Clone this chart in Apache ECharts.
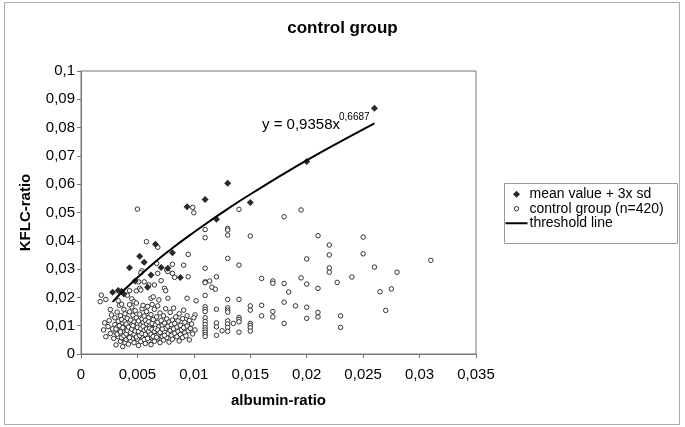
<!DOCTYPE html>
<html><head><meta charset="utf-8">
<script src="https://cdn.jsdelivr.net/npm/echarts@6/dist/echarts.min.js"></script>
<style>html,body{margin:0;padding:0;background:#fff}#c{width:685px;height:427px}</style>
</head><body><div id="c"></div><script>
const titleText = 'control group';
const xName = 'albumin-ratio';
const yName = 'KFLC-ratio';
const xTickLabels = ['0','0,005','0,01','0,015','0,02','0,025','0,03','0,035'];
const yTickLabels = ['0','0,01','0,02','0,03','0,04','0,05','0,06','0,07','0,08','0,09','0,1'];
const seriesNames = ['mean value + 3x sd','control group (n=420)','threshold line'];
const equationMain = 'y = 0,9358x';
const equationExp = '0,6687';

const meanSd = [
[0.0028,0.0218],[0.0033,0.0224],[0.0036,0.0222],[0.0038,0.0212],[0.0043,0.0305],[0.0048,0.0258],
[0.0052,0.0345],[0.0056,0.0324],[0.0059,0.0236],[0.0062,0.0279],[0.0066,0.0388],[0.0071,0.0306],
[0.0077,0.0303],[0.0081,0.0358],[0.0088,0.0270],[0.0094,0.0520],[0.0110,0.0546],[0.0120,0.0476],
[0.0130,0.0603],[0.0150,0.0535],[0.0200,0.0680],[0.0260,0.0868]
];

const controlGroup = [
[0.0050,0.0512],[0.0099,0.0518],[0.0100,0.0499],[0.0140,0.0511],[0.0130,0.0444],[0.0130,0.0438],[0.0130,0.0420],
[0.0110,0.0440],[0.0110,0.0411],[0.0150,0.0417],[0.0058,0.0397],[0.0068,0.0377],[0.0095,0.0352],[0.0130,0.0338],
[0.0140,0.0314],[0.0110,0.0303],[0.0091,0.0314],[0.0067,0.0320],[0.0081,0.0317],[0.0054,0.0294],[0.0053,0.0287],
[0.0076,0.0297],[0.0077,0.0291],[0.0081,0.0285],[0.0068,0.0285],[0.0095,0.0273],[0.0083,0.0271],[0.0120,0.0273],
[0.0110,0.0255],[0.0114,0.0258],[0.0071,0.0259],[0.0056,0.0255],[0.0051,0.0255],[0.0060,0.0244],[0.0065,0.0244],
[0.0116,0.0236],[0.0119,0.0229],[0.0110,0.0252],[0.0160,0.0267],[0.0170,0.0258],[0.0170,0.0250],[0.0110,0.0207],
[0.0130,0.0193],[0.0140,0.0193],[0.0102,0.0188],[0.0094,0.0197],[0.0074,0.0232],[0.0075,0.0224],[0.0052,0.0232],
[0.0053,0.0226],[0.0049,0.0223],[0.0043,0.0224],[0.0018,0.0208],[0.0022,0.0193],[0.0017,0.0185],[0.0041,0.0208],
[0.0045,0.0195],[0.0047,0.0185],[0.0062,0.0197],[0.0064,0.0202],[0.0069,0.0191],[0.0077,0.0197],
[0.0180,0.0485],[0.0195,0.0509],[0.0210,0.0418],[0.0220,0.0385],[0.0220,0.0350],[0.0250,0.0413],[0.0250,0.0354],
[0.0200,0.0336],[0.0310,0.0331],[0.0260,0.0307],[0.0280,0.0289],[0.0220,0.0304],[0.0220,0.0289],[0.0240,0.0272],
[0.0227,0.0253],[0.0195,0.0269],[0.0200,0.0247],[0.0210,0.0232],[0.0180,0.0249],[0.0184,0.0219],[0.0265,0.0220],
[0.0275,0.0230],[0.0180,0.0183],[0.0190,0.0170],[0.0200,0.0165],[0.0210,0.0147],[0.0210,0.0131],[0.0230,0.0135],
[0.0230,0.0094],[0.0270,0.0154],[0.0200,0.0126],[0.0180,0.0108],[0.0170,0.0150],[0.0170,0.0131],[0.0160,0.0172],
[0.0160,0.0135],
[0.0110,0.0167],[0.0110,0.0158],[0.0110,0.0150],[0.0120,0.0158],[0.0130,0.0163],[0.0130,0.0155],[0.0130,0.0148],
[0.0150,0.0170],[0.0150,0.0155],[0.0140,0.0129],[0.0140,0.0122],[0.0140,0.0114],[0.0150,0.0108],[0.0150,0.0101],
[0.0150,0.0093],[0.0150,0.0081],[0.0130,0.0117],[0.0130,0.0106],[0.0130,0.0094],[0.0130,0.0080],[0.0120,0.0110],
[0.0120,0.0096],[0.0120,0.0066],[0.0135,0.0108],[0.0125,0.0082],[0.0140,0.0077],[0.0110,0.0128],[0.0110,0.0115],
[0.0110,0.0104],[0.0110,0.0093],[0.0110,0.0085],[0.0110,0.0077],[0.0110,0.0069],[0.0110,0.0062],[0.0101,0.0138],
[0.0101,0.0085],
[0.0020,0.0085],[0.0022,0.0061],[0.0024,0.0097],[0.0025,0.0118],[0.0026,0.0072],[0.0027,0.0138],[0.0028,0.0089],
[0.0029,0.0055],[0.0030,0.0104],[0.0030,0.0128],[0.0021,0.0110],[0.0026,0.0157],
[0.0031,0.0032],[0.0031,0.0075],[0.0032,0.0095],[0.0032,0.0148],[0.0033,0.0061],[0.0033,0.0116],[0.0034,0.0082],
[0.0034,0.0172],[0.0035,0.0045],[0.0035,0.0101],[0.0035,0.0135],[0.0036,0.0068],[0.0036,0.0090],[0.0036,0.0122],
[0.0037,0.0026],[0.0037,0.0055],[0.0037,0.0108],[0.0038,0.0079],[0.0038,0.0097],[0.0038,0.0158],[0.0039,0.0040],
[0.0039,0.0066],[0.0039,0.0115],[0.0039,0.0142],[0.0040,0.0086],[0.0040,0.0052],[0.0033,0.0188],[0.0036,0.0176],
[0.0041,0.0072],[0.0041,0.0098],[0.0041,0.0126],[0.0042,0.0035],[0.0042,0.0061],[0.0042,0.0110],[0.0043,0.0083],
[0.0043,0.0149],[0.0044,0.0047],[0.0044,0.0093],[0.0044,0.0120],[0.0045,0.0068],[0.0045,0.0104],[0.0045,0.0166],
[0.0046,0.0056],[0.0046,0.0079],[0.0046,0.0137],[0.0047,0.0040],[0.0047,0.0089],[0.0047,0.0113],[0.0048,0.0064],
[0.0048,0.0099],[0.0048,0.0153],[0.0049,0.0074],[0.0049,0.0128],[0.0050,0.0052],[0.0050,0.0085],[0.0050,0.0107],
[0.0043,0.0174],[0.0049,0.0180],
[0.0051,0.0030],[0.0051,0.0069],[0.0051,0.0117],[0.0052,0.0092],[0.0052,0.0141],[0.0053,0.0044],[0.0053,0.0078],
[0.0053,0.0103],[0.0054,0.0060],[0.0054,0.0124],[0.0054,0.0160],[0.0055,0.0087],[0.0055,0.0111],[0.0056,0.0051],
[0.0056,0.0073],[0.0056,0.0096],[0.0056,0.0134],[0.0057,0.0037],[0.0057,0.0082],[0.0057,0.0119],[0.0058,0.0063],
[0.0058,0.0106],[0.0058,0.0150],[0.0059,0.0076],[0.0059,0.0091],[0.0060,0.0047],[0.0060,0.0114],[0.0060,0.0129],
[0.0055,0.0172],[0.0059,0.0168],
[0.0061,0.0068],[0.0061,0.0099],[0.0062,0.0033],[0.0062,0.0084],[0.0062,0.0139],[0.0063,0.0057],[0.0063,0.0108],
[0.0064,0.0075],[0.0064,0.0122],[0.0065,0.0045],[0.0065,0.0093],[0.0065,0.0158],[0.0066,0.0065],[0.0066,0.0103],
[0.0067,0.0080],[0.0067,0.0131],[0.0068,0.0054],[0.0068,0.0112],[0.0069,0.0070],[0.0069,0.0096],[0.0070,0.0040],
[0.0070,0.0145],[0.0063,0.0175],[0.0068,0.0170],
[0.0071,0.0086],[0.0071,0.0118],[0.0072,0.0062],[0.0072,0.0101],[0.0073,0.0049],[0.0073,0.0135],[0.0074,0.0078],
[0.0074,0.0109],[0.0075,0.0091],[0.0075,0.0160],[0.0076,0.0058],[0.0076,0.0124],[0.0077,0.0072],[0.0077,0.0098],
[0.0078,0.0042],[0.0078,0.0113],[0.0079,0.0083],[0.0079,0.0147],[0.0080,0.0066],[0.0080,0.0104],
[0.0081,0.0120],[0.0081,0.0052],[0.0082,0.0089],[0.0082,0.0162],[0.0083,0.0073],[0.0083,0.0108],[0.0084,0.0131],
[0.0085,0.0061],[0.0085,0.0095],[0.0086,0.0080],[0.0086,0.0117],[0.0087,0.0046],[0.0087,0.0142],[0.0088,0.0069],
[0.0088,0.0101],[0.0089,0.0086],[0.0090,0.0125],[0.0090,0.0058],
[0.0091,0.0093],[0.0091,0.0155],[0.0092,0.0075],[0.0092,0.0112],[0.0093,0.0064],[0.0094,0.0099],[0.0094,0.0135],
[0.0095,0.0082],[0.0096,0.0118],[0.0096,0.0050],[0.0097,0.0090],[0.0098,0.0106],[0.0099,0.0071],[0.0100,0.0128],
[0.0031,0.0088],[0.0032,0.0070],[0.0034,0.0100],[0.0035,0.0078],[0.0036,0.0058],[0.0037,0.0093],[0.0038,0.0064],
[0.0040,0.0106],[0.0040,0.0071],[0.0041,0.0083],[0.0042,0.0095],[0.0043,0.0058],[0.0044,0.0076],[0.0045,0.0088],
[0.0046,0.0100],[0.0047,0.0070],[0.0048,0.0081],[0.0049,0.0060],[0.0050,0.0094],[0.0051,0.0079],[0.0052,0.0065],
[0.0053,0.0090],[0.0054,0.0072],[0.0055,0.0098],[0.0056,0.0084],[0.0057,0.0069],[0.0058,0.0088],[0.0059,0.0055],
[0.0060,0.0080],[0.0061,0.0091],[0.0062,0.0070],[0.0063,0.0087],[0.0064,0.0062],[0.0065,0.0080],[0.0066,0.0090],
[0.0067,0.0059],[0.0068,0.0085],[0.0070,0.0076],[0.0072,0.0088],[0.0074,0.0066]
];

const thresholdLine = [
[0.0028,0.0184],[0.0040,0.0233],[0.0060,0.0306],[0.0080,0.0371],[0.0100,0.0430],[0.0130,0.0513],
[0.0160,0.0589],[0.0190,0.0661],[0.0220,0.0729],[0.0260,0.0815]
];

const FONT = '"Liberation Sans", Arial, sans-serif';
const chart = echarts.init(document.getElementById('c'), null, {renderer:'canvas'});
chart.setOption({
  animation:false,
  backgroundColor:'#fff',
  textStyle:{fontFamily:FONT},
  title:{text:titleText,left:'center',top:20,padding:0,
    textStyle:{fontFamily:FONT,fontSize:17,fontWeight:'bold',color:'#000'}},
  grid:{left:81,top:71,right:209,bottom:73,show:true,borderColor:'#777777',borderWidth:1},
  legend:{orient:'vertical',left:505,top:187,padding:0,itemWidth:22,itemHeight:7,itemGap:0,
    textStyle:{fontFamily:FONT,fontSize:14,lineHeight:14.5,color:'#000',padding:[0,0,0,-3]},
    data:[
      {name:seriesNames[0],icon:'path://M0 0M22 0M22 7M0 7M11 0L14.5 3.5L11 7L7.5 3.5Z',
        itemStyle:{color:'#2a2a2a',borderWidth:0}},
      {name:seriesNames[1],icon:'path://M0 0M22 7M13.2 3.5A2.2 2.2 0 1 1 8.8 3.5A2.2 2.2 0 1 1 13.2 3.5Z',
        itemStyle:{color:'#ffffff',borderColor:'#333333',borderWidth:1}},
      {name:seriesNames[2],icon:'path://M0 0M22 7M0 2.5L22 2.5L22 4.5L0 4.5Z',
        itemStyle:{color:'#000000',borderWidth:0}}
    ]},
  xAxis:{type:'value',min:0,max:0.035,interval:0.005,
    name:xName,nameLocation:'middle',nameGap:39,
    nameTextStyle:{fontFamily:FONT,fontSize:15,fontWeight:'bold',color:'#000'},
    axisLine:{show:true,lineStyle:{color:'#777777',width:1}},
    axisTick:{show:true,length:4,lineStyle:{color:'#777777'}},
    splitLine:{show:false},
    axisLabel:{margin:13,fontFamily:FONT,fontSize:15,color:'#000',
      formatter:(v,i)=>xTickLabels[Math.round(v/0.005)]}},
  yAxis:{type:'value',min:0,max:0.1,interval:0.01,
    name:yName,nameLocation:'middle',nameGap:48,
    nameTextStyle:{fontFamily:FONT,fontSize:15,fontWeight:'bold',color:'#000'},
    axisLine:{show:true,lineStyle:{color:'#777777',width:1}},
    axisTick:{show:true,length:4,lineStyle:{color:'#777777'}},
    splitLine:{show:false},
    axisLabel:{margin:6,fontFamily:FONT,fontSize:15,color:'#000',
      formatter:(v,i)=>yTickLabels[Math.round(v/0.01)]}},
  series:[
    {name:seriesNames[0],type:'scatter',data:meanSd,symbol:'diamond',symbolSize:7,z:4,
      itemStyle:{color:'#2a2a2a',opacity:1}},
    {name:seriesNames[1],type:'scatter',data:controlGroup,symbol:'circle',symbolSize:4.5,z:3,
      itemStyle:{color:'#ffffff',borderColor:'#333333',borderWidth:1,opacity:1}},
    {name:seriesNames[2],type:'line',data:thresholdLine,smooth:true,showSymbol:false,z:5,
      lineStyle:{color:'#000',width:2},itemStyle:{color:'#000'}}
  ],
  graphic:[
    {type:'rect',shape:{x:4.5,y:2.5,width:675,height:422},style:{fill:'none',stroke:'#aaaaaa',lineWidth:1},silent:true,z:-1},
    {type:'rect',shape:{x:504.5,y:183.5,width:173,height:60},style:{fill:'none',stroke:'#999999',lineWidth:1},silent:true,z:-1},
    {type:'text',left:262,top:117,style:{text:equationMain,font:'15px '+FONT,fill:'#000'},silent:true,z:10},
    {type:'text',left:339,top:112,style:{text:equationExp,font:'10px '+FONT,fill:'#000'},silent:true,z:10}
  ]
});
</script></body></html>
